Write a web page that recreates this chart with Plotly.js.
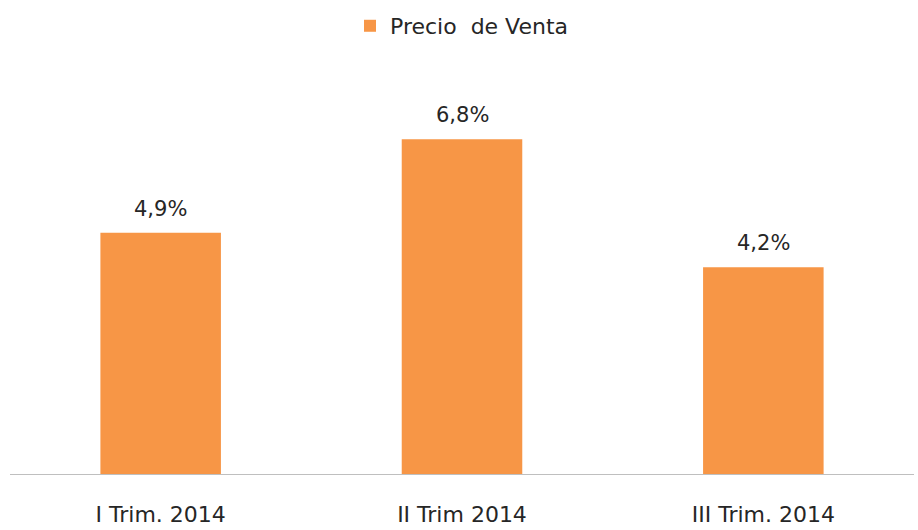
<!DOCTYPE html>
<html>
<head>
<meta charset="utf-8">
<script src="https://cdn.plot.ly/plotly-3.0.1.min.js"></script>
<style>html,body{margin:0;padding:0;background:#fff;}#chart{width:918px;height:530px;}</style>
</head>
<body>
<div id="chart"></div>
<script>
const categories = ["I Trim. 2014", "II Trim 2014", "III Trim. 2014"];
const values = [4.9, 6.8, 4.2];
const labels = ["4,9%", "6,8%", "4,2%"];
const seriesName = "Precio  de Venta";

const FONT = "DejaVu Sans, sans-serif";
const TXT = "#262626";

const trace = {
  type: "bar",
  x: categories,
  y: values,
  name: seriesName,
  marker: { color: "#F79646" },
  hoverinfo: "none",
  showlegend: true
};

const annotations = categories.map((c, i) => ({
  x: c, y: values[i], xref: "x", yref: "y",
  text: labels[i], showarrow: false,
  yanchor: "bottom", yshift: 10,
  font: { family: FONT, size: 21, color: TXT }
}));

const layout = {
  width: 918, height: 530,
  margin: { l: 10, r: 4, t: 50, b: 56 },
  paper_bgcolor: "#fff", plot_bgcolor: "#fff",
  bargap: 0.6,
  font: { family: FONT, color: TXT },
  xaxis: {
    showline: true, linecolor: "#BFBFBF", linewidth: 1,
    ticks: "", showgrid: false, zeroline: false,
    tickfont: { family: FONT, size: 22, color: TXT },
    ticklabelstandoff: 21
  },
  yaxis: { visible: false, range: [0, 8.61], fixedrange: true },
  showlegend: true,
  legend: {
    orientation: "h", x: 0.5, xanchor: "center",
    yref: "container", y: 0.951, yanchor: "middle",
    font: { family: FONT, size: 22, color: TXT }
  },
  annotations: annotations
};

Plotly.newPlot("chart", [trace], layout, { displayModeBar: false, staticPlot: true });
</script>
</body>
</html>
